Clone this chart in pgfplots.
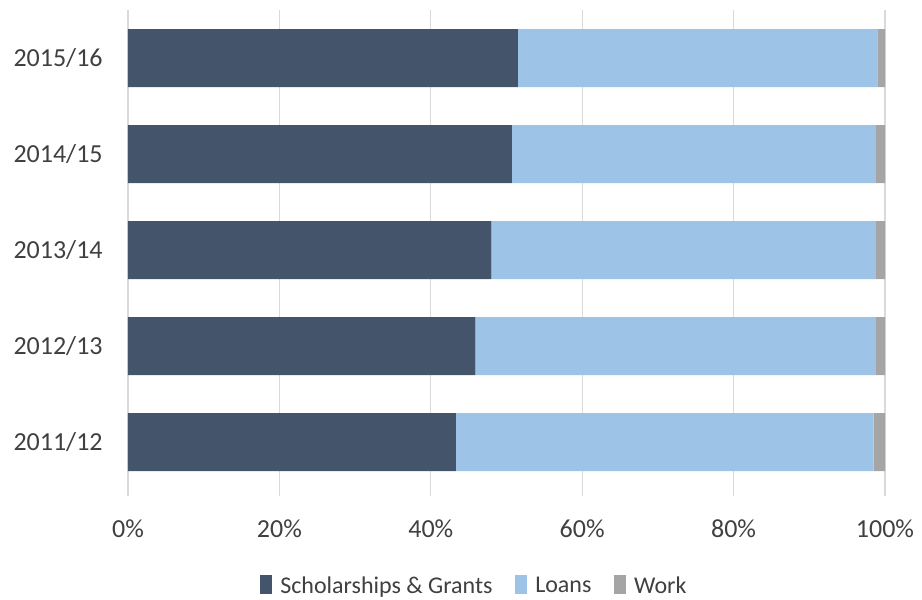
\documentclass[border=0pt]{standalone}
\usepackage{pgfplots}
\pgfplotsset{compat=1.18}
\usepackage{fontspec}
\setmainfont{Carlito}
\definecolor{grants}{HTML}{44546A}
\definecolor{loans}{HTML}{9DC3E6}
\definecolor{work}{HTML}{A5A5A5}
\definecolor{gridc}{HTML}{D9D9D9}
\definecolor{txt}{HTML}{404040}
\begin{document}
\begin{tikzpicture}[x=1pt,y=1pt]
\path[use as bounding box] (-96,-82.5) rectangle (595.5,367.5);
\begin{axis}[
    at={(0,0)}, anchor=south west,
    scale only axis,
    width=567.75pt, height=360pt,
    xbar stacked,
    bar width=43.5pt,
    xmin=0, xmax=100,
    ymin=-0.5, ymax=4.5,
    xtick={0,20,40,60,80,100},
    xticklabel={\pgfmathprintnumber{\tick}\%},
    /pgf/number format/assume math mode=true,
    ytick={0,1,2,3,4},
    yticklabels={2011/12,2012/13,2013/14,2014/15,2015/16},
    xmajorgrids=true,
    grid style={gridc, line width=0.9pt},
    axis line style={draw=none},
    xtick pos=bottom, ytick style={draw=none},
    tick align=outside,
    major tick length=4.5pt,
    xtick style={gridc, line width=0.9pt},
    ticklabel style={font=\fontsize{19.5}{22}\selectfont, text=txt},
    xticklabel style={yshift=-14pt},
    yticklabel style={xshift=-11pt},
    legend style={draw=none, at={(0.458,-0.2)}, anchor=center,
        legend columns=-1, font=\fontsize{18}{20}\selectfont, text=txt,
        /tikz/every even column/.append style={column sep=15pt},
        /tikz/every odd column/.append style={column sep=4pt}},
    legend image code/.code={\fill[#1] (0pt,-6pt) rectangle (9pt,8pt);},
]
\addplot[fill=grants, draw=none] coordinates {
    (43.3,0) (45.9,1) (48.0,2) (50.7,3) (51.5,4)};
\addplot[fill=loans, draw=none] coordinates {
    (55.2,0) (52.9,1) (50.8,2) (48.1,3) (47.5,4)};
\addplot[fill=work, draw=none] coordinates {
    (1.5,0) (1.2,1) (1.2,2) (1.2,3) (1.0,4)};
\legend{Scholarships \& Grants, Loans, Work}
\end{axis}
\end{tikzpicture}
\end{document}
